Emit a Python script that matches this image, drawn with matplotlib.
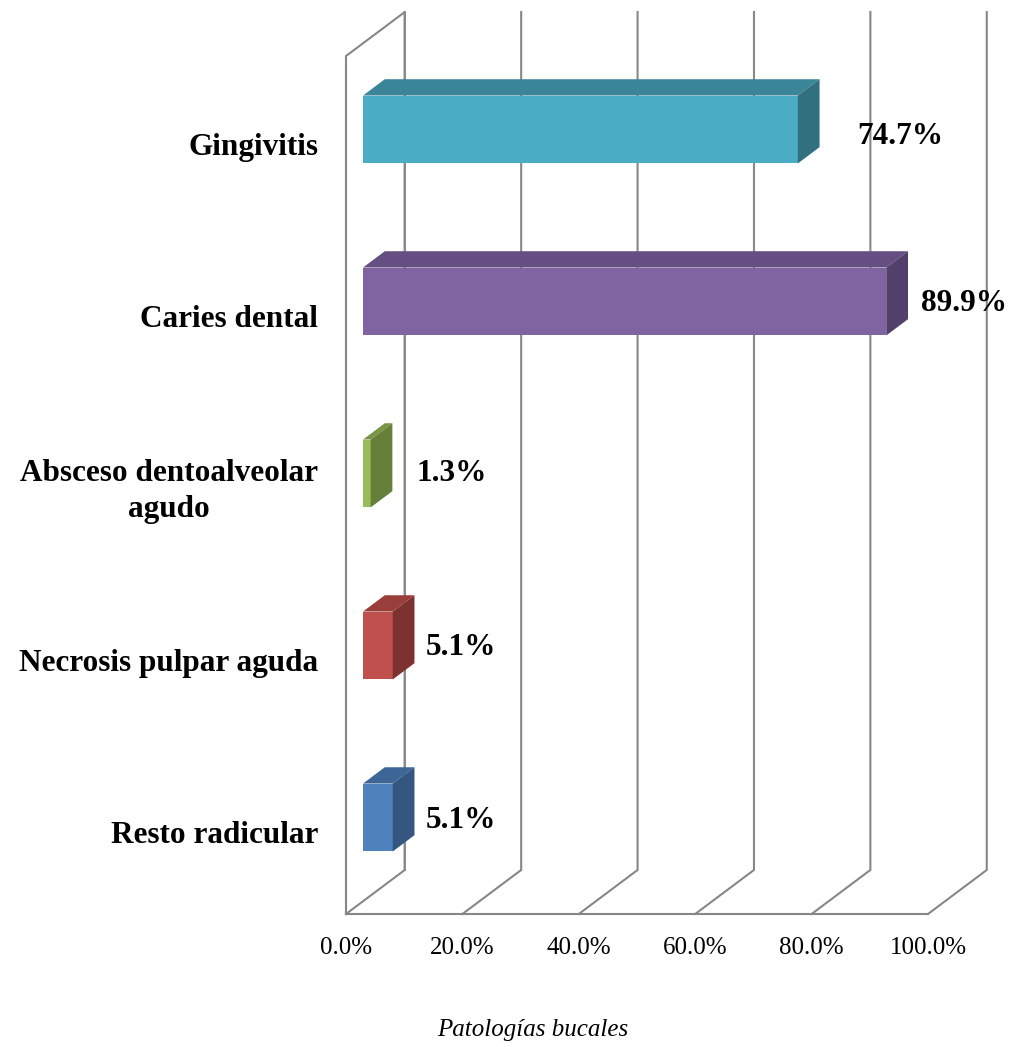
import matplotlib.pyplot as plt
from matplotlib.patches import Polygon, Rectangle

# Patologías bucales, bottom to top
categories = ["Resto radicular", "Necrosis pulpar aguda",
              "Absceso dentoalveolar\nagudo", "Caries dental", "Gingivitis"]
values = [5.1, 5.1, 1.3, 89.9, 74.7]
value_labels = ["5.1%", "5.1%", "1.3%", "89.9%", "74.7%"]
tick_values = [0, 20, 40, 60, 80, 100]
tick_labels = ["0.0%", "20.0%", "40.0%", "60.0%", "80.0%", "100.0%"]

front_colors = ["#4F81BD", "#C0504D", "#9BBB59", "#8064A2", "#4BACC6"]
top_colors = ["#3D6596", "#9A3E3B", "#7A9446", "#654E81", "#3A8597"]
side_colors = ["#345680", "#7E3230", "#66803A", "#533F6B", "#31707F"]
# nudges for the value labels (x in %, y in category units)
label_dx = [1.9, 1.9, 4.2, 2.3, 6.5]
label_dy = [-0.02, -0.01, 0.0, -0.01, -0.04]

plt.rcParams["font.family"] = ["Liberation Serif", "DejaVu Serif"]

W, H = 1013, 1047
fig = plt.figure(figsize=(W / 100, H / 100), dpi=100)
# axes box = front floor line (x) and wall height (y)
ax = fig.add_axes([346 / W, (H - 914) / H, 582 / W, 902 / H])
ax.set_xlim(0, 100)
ax.set_ylim(-0.561, 4.683)
ax.axis("off")

# depth of the wall box in data units
dep_x, dep_y = 10.1, 0.256
bar_start, bar_depth = 0.29, 0.37
bar_h = 0.395
ybot, ytop = ax.get_ylim()

grid_kw = dict(color="#878787", lw=1.5, clip_on=False, zorder=1,
               solid_joinstyle="miter")
# left wall
ax.plot([0, 0, dep_x, dep_x], [ybot, ytop - dep_y, ytop, ybot + dep_y], **grid_kw)
# floor front line
ax.plot([0, 100], [ybot, ybot], **grid_kw)
# floor diagonals and back wall lines
for t, lab in zip(tick_values, tick_labels):
    ax.plot([t, t + dep_x, t + dep_x], [ybot, ybot + dep_y, ytop], **grid_kw)
    ax.text(t, ybot - 0.195, lab, ha="center", va="center", fontsize=18,
            clip_on=False)

x0 = bar_start * dep_x
y_shift = bar_start * dep_y
ddx, ddy = bar_depth * dep_x, bar_depth * dep_y
for i, v in enumerate(values):
    yc = i
    lo, hi = yc - bar_h / 2, yc + bar_h / 2
    ax.add_patch(Rectangle((x0, lo), v, bar_h, facecolor=front_colors[i],
                           edgecolor="none", zorder=3, clip_on=False))
    ax.add_patch(Polygon([(x0, hi), (x0 + v, hi), (x0 + v + ddx, hi + ddy),
                          (x0 + ddx, hi + ddy)], closed=True,
                         facecolor=top_colors[i], edgecolor="none",
                         zorder=3, clip_on=False))
    ax.add_patch(Polygon([(x0 + v, lo), (x0 + v + ddx, lo + ddy),
                          (x0 + v + ddx, hi + ddy), (x0 + v, hi)], closed=True,
                         facecolor=side_colors[i], edgecolor="none",
                         zorder=3, clip_on=False))
    ax.text(x0 + v + ddx + label_dx[i], yc + label_dy[i], value_labels[i],
            ha="left", va="center", fontsize=22.5, fontweight="bold",
            zorder=4, clip_on=False)
    ax.text(-4.8, yc - y_shift - 0.03, categories[i], ha="right", va="center",
            multialignment="center", fontsize=22.5, fontweight="bold",
            linespacing=1.35, clip_on=False)

fig.text(533 / W, 1 - 1030 / H, "Patologías bucales", ha="center",
         va="center", fontsize=18, style="italic")

fig.savefig("out.png", dpi=100)
